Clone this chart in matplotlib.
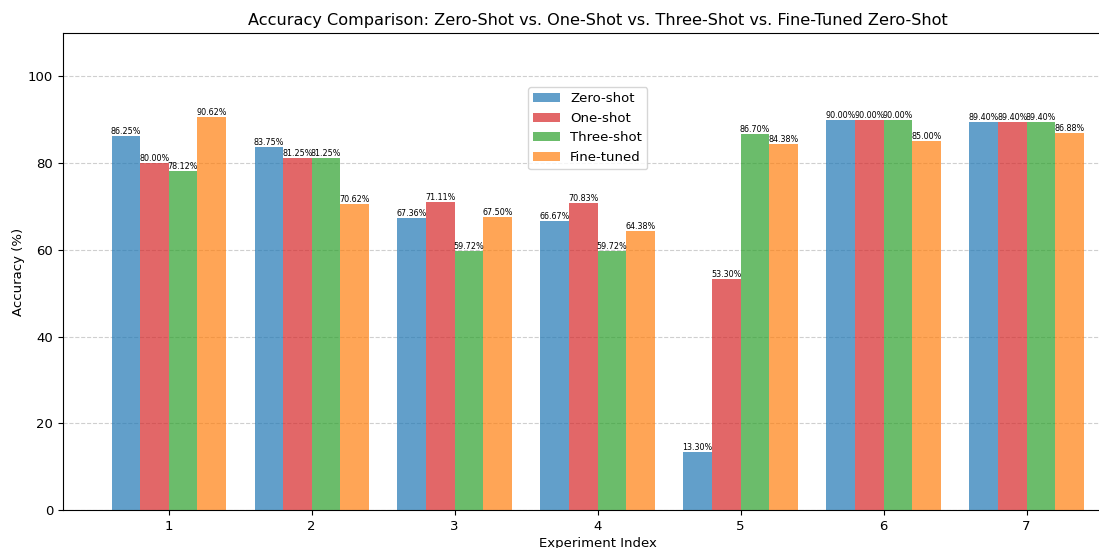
import numpy as np
import matplotlib.pyplot as plt

experiments = [1, 2, 3, 4, 5, 6, 7]
zero_shot = [86.25, 83.75, 67.36, 66.67, 13.30, 90.00, 89.40]
one_shot = [80.00, 81.25, 71.11, 70.83, 53.30, 90.00, 89.40]
three_shot = [78.12, 81.25, 59.72, 59.72, 86.70, 90.00, 89.40]
fine_tuned = [90.62, 70.62, 67.50, 64.38, 84.38, 85.00, 86.88]

series = [
    ('Zero-shot', zero_shot, 'tab:blue'),
    ('One-shot', one_shot, 'tab:red'),
    ('Three-shot', three_shot, 'tab:green'),
    ('Fine-tuned', fine_tuned, 'tab:orange'),
]


def main():
    fig = plt.figure(figsize=(10.99, 5.48), dpi=100)
    ax = fig.add_axes([0.0573, 0.0693, 0.973, 0.8705])

    x = np.array(experiments)
    width = 0.2
    for i, (name, vals, color) in enumerate(series):
        bars = ax.bar(x + (i - 1.5) * width, vals, width, label=name, color=color, alpha=0.7)
        for b, v in zip(bars, vals):
            ax.text(b.get_x() + b.get_width() / 2, v, f'{v:.2f}%',
                    ha='center', va='bottom', fontsize=5.8)

    ax.set_xticks(x)
    ax.set_xlim(0.26, 7.74)
    ax.set_ylim(0, 110)
    ax.tick_params(labelsize=9.5)
    ax.set_xlabel('Experiment Index', fontsize=9.5, labelpad=3)
    ax.set_ylabel('Accuracy (%)', fontsize=9.5, labelpad=2)
    ax.set_title('Accuracy Comparison: Zero-Shot vs. One-Shot vs. Three-Shot vs. Fine-Tuned Zero-Shot',
                 fontsize=11.6)
    ax.grid(axis='y', linestyle='--', alpha=0.6)
    ax.set_axisbelow(True)
    ax.legend(loc='upper left', bbox_to_anchor=(0.4804, 0.8412), bbox_transform=fig.transFigure,
              borderaxespad=0, fontsize=9.5)

    fig.savefig('out.png', dpi=100)


if __name__ == "__main__":
    main()
